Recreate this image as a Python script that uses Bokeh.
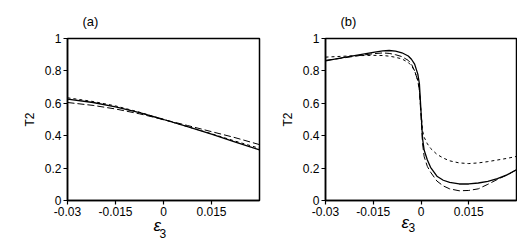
from bokeh.plotting import figure
from bokeh.layouts import row
from bokeh.models import Range1d, FixedTicker, Title
from bokeh.embed import file_html
from bokeh.resources import INLINE

# ---- data ----
x_ticks = [-0.03, -0.015, 0, 0.015]
x_tick_labels = ["-0.03", "-0.015", "0", "0.015"]
y_ticks = [0, 0.2, 0.4, 0.6, 0.8, 1]
y_tick_labels = ["0", "0.2", "0.4", "0.6", "0.8", "1"]

# panel (a)
a_x = [-0.03, -0.022, -0.015, -0.0075, 0.0, 0.0075, 0.015, 0.022, 0.03]
a_solid = [0.626, 0.605, 0.578, 0.542, 0.5, 0.456, 0.409, 0.364, 0.313]
a_long = [0.605, 0.587, 0.565, 0.535, 0.5, 0.463, 0.425, 0.39, 0.345]
a_short = [0.634, 0.611, 0.584, 0.545, 0.5, 0.456, 0.412, 0.369, 0.322]

# panel (b)
b_x = [-0.03, -0.025, -0.02, -0.015, -0.012, -0.01, -0.008, -0.006, -0.004,
       -0.003, -0.002, -0.001, -0.0005, 0.0, 0.0005, 0.001, 0.002, 0.003,
       0.005, 0.007, 0.009, 0.012, 0.015, 0.018, 0.021, 0.024, 0.027, 0.03]
b_solid = [0.862, 0.88, 0.898, 0.915, 0.924, 0.926, 0.922, 0.912, 0.892,
           0.872, 0.842, 0.78, 0.72, 0.55, 0.38, 0.31, 0.25, 0.205,
           0.15, 0.125, 0.112, 0.102, 0.102, 0.108, 0.118, 0.135, 0.158, 0.19]
b_long = [0.865, 0.878, 0.893, 0.906, 0.911, 0.908, 0.9, 0.888, 0.865,
          0.842, 0.8, 0.74, 0.68, 0.52, 0.35, 0.27, 0.21, 0.175,
          0.12, 0.09, 0.072, 0.06, 0.062, 0.072, 0.1, 0.13, 0.157, 0.19]
b_short = [0.885, 0.89, 0.894, 0.896, 0.895, 0.891, 0.884, 0.874, 0.852,
           0.832, 0.8, 0.74, 0.68, 0.55, 0.43, 0.39, 0.35, 0.322,
           0.285, 0.262, 0.245, 0.232, 0.228, 0.232, 0.24, 0.25, 0.26, 0.272]

FONT = "Liberation Sans"


def make_panel(width, b_left, b_right, b_top, b_bottom, xs, solid, long_d, short_d,
               letter, eps_off, eps_stand, sub_off, sub_stand):
    p = figure(width=width, height=244, output_backend="svg", toolbar_location=None,
               x_range=Range1d(-0.03, 0.03), y_range=Range1d(0, 1),
               min_border_left=b_left, min_border_top=b_top,
               min_border_bottom=b_bottom, min_border_right=b_right)
    p.background_fill_color = "white"
    p.border_fill_color = "white"
    p.outline_line_color = "black"
    p.outline_line_width = 1.5
    p.xgrid.visible = False
    p.ygrid.visible = False
    for ax in (p.xaxis[0], p.yaxis[0]):
        ax.axis_line_width = 1.5
        ax.axis_line_color = "black"
        ax.major_tick_line_color = "black"
        ax.major_tick_line_width = 1.2
        ax.major_tick_out = 4
        ax.major_tick_in = 0
        ax.minor_tick_line_color = None
        ax.major_label_text_font = FONT
        ax.major_label_text_font_size = "12px"
        ax.major_label_text_color = "black"
        ax.major_label_standoff = 2
        ax.axis_label_text_font = FONT
        ax.axis_label_text_font_size = "12px"
        ax.axis_label_text_font_style = "normal"
        ax.axis_label_text_color = "black"
    p.xaxis.ticker = FixedTicker(ticks=x_ticks)
    p.xaxis.major_label_overrides = {t: l for t, l in zip(x_ticks, x_tick_labels)}
    p.yaxis.ticker = FixedTicker(ticks=y_ticks)
    p.yaxis.major_label_overrides = {t: l for t, l in zip(y_ticks, y_tick_labels)}
    p.yaxis.axis_label = "T2"
    p.yaxis.axis_label_standoff = 5

    p.line(xs, short_d, line_color="black", line_width=1.0, line_dash="3 3")
    p.line(xs, long_d, line_color="black", line_width=1.0, line_dash="7 3")
    p.line(xs, solid, line_color="black", line_width=1.3)

    p.title = Title(text=letter, align="left", offset=15, standoff=20,
                    text_font=FONT, text_font_size="13px",
                    text_font_style="normal", text_color="black")
    p.add_layout(Title(text="ε", align="left", offset=eps_off, standoff=eps_stand,
                       text_font=FONT, text_font_size="17px",
                       text_font_style="italic", text_color="black"), "below")
    p.add_layout(Title(text="3", align="left", offset=sub_off, standoff=sub_stand,
                       text_font=FONT, text_font_size="12px",
                       text_font_style="normal", text_color="black"), "below")
    return p


pa = make_panel(266, 67, 7, 38, 43, a_x, a_solid, a_long, a_short, "(a)",
                86, -9, 92, -15)
pb = make_panel(251, 59, 1, 37, 44, b_x, b_solid, b_long, b_short, "(b)",
                76, -16, 83, -17)

layout = row(pa, pb)
open("out.html", "w").write(file_html(layout, INLINE))
